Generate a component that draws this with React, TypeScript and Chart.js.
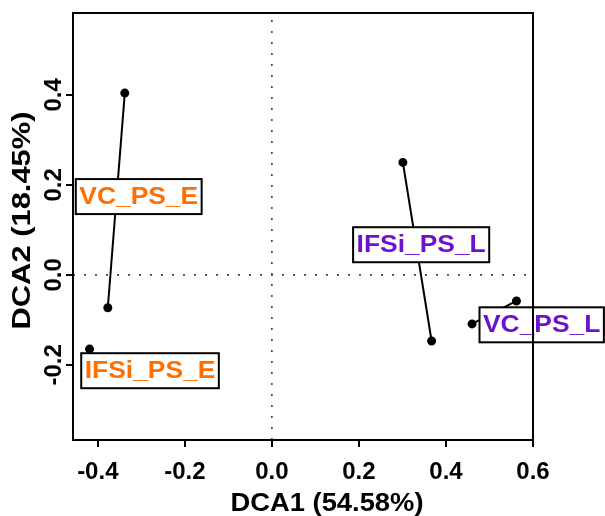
import React, { useEffect, useRef } from "react";
import { Chart, registerables } from "chart.js";
Chart.register(...registerables);

// ---- data ----
const groupNames = ["VC_PS_E", "IFSi_PS_E", "IFSi_PS_L", "VC_PS_L"];
const groupColors = ["#FF6F00", "#FF6F00", "#6F10CF", "#6F10CF"];
const vcPsE = [
  { x: -0.338, y: 0.404 },
  { x: -0.377, y: -0.073 },
];
const ifsiPsE = [{ x: -0.419, y: -0.165 }];
const ifsiPsL = [
  { x: 0.301, y: 0.25 },
  { x: 0.367, y: -0.147 },
];
const vcPsL = [
  { x: 0.46, y: -0.109 },
  { x: 0.562, y: -0.058 },
];
const labelX = [-0.306, -0.28, 0.343, 0.62];
const labelY = [0.174, -0.213, 0.067, -0.111];
const xTicks = [-0.4, -0.2, 0.0, 0.2, 0.4, 0.6];
const yTicks = [-0.2, 0.0, 0.2, 0.4];
const xRange = [-0.457, 0.6];
const yRange = [-0.367, 0.582];
const xTitle = "DCA1 (54.58%)";
const yTitle = "DCA2 (18.45%)";

const FONT = '"Liberation Sans", Arial, sans-serif';

function drawStretched(ctx: CanvasRenderingContext2D, text: string, cx: number, cy: number, sx: number) {
  ctx.save();
  ctx.translate(cx, cy);
  ctx.scale(sx, 1);
  ctx.textAlign = "center";
  ctx.textBaseline = "middle";
  ctx.fillText(text, 0, 0);
  ctx.restore();
}

const overlayPlugin = {
  id: "overlay",
  afterDatasetsDraw(chart: any) {
    const ctx = chart.ctx as CanvasRenderingContext2D;
    const xs = chart.scales.x;
    const ys = chart.scales.y;
    const sx = 1.1;
    ctx.save();
    ctx.font = `bold 24px ${FONT}`;
    groupNames.forEach((name, i) => {
      const cx = xs.getPixelForValue(labelX[i]);
      const cy = ys.getPixelForValue(labelY[i]);
      const w = ctx.measureText(name).width * sx + 7;
      const h = 35;
      ctx.fillStyle = "#ffffff";
      ctx.fillRect(cx - w / 2, cy - h / 2, w, h);
      ctx.lineWidth = 2;
      ctx.strokeStyle = "#000000";
      ctx.strokeRect(cx - w / 2, cy - h / 2, w, h);
      ctx.fillStyle = groupColors[i];
      drawStretched(ctx, name, cx, cy + 1, sx);
    });
    ctx.restore();
  },
  afterDraw(chart: any) {
    const ctx = chart.ctx as CanvasRenderingContext2D;
    const a = chart.chartArea;
    ctx.save();
    ctx.lineWidth = 2;
    ctx.strokeStyle = "#000000";
    ctx.strokeRect(a.left, a.top, a.right - a.left, a.bottom - a.top);
    ctx.fillStyle = "#000000";
    ctx.font = `bold 25px ${FONT}`;
    const tw = ctx.measureText(xTitle).width;
    drawStretched(ctx, xTitle, (a.left + a.right) / 2 + 24, 504, 193 / tw);
    ctx.save();
    ctx.translate(23, (a.top + a.bottom) / 2 - 6);
    ctx.rotate(-Math.PI / 2);
    const tw2 = ctx.measureText(yTitle).width;
    drawStretched(ctx, yTitle, 0, 0, 218 / tw2);
    ctx.restore();
    ctx.restore();
  },
};

export default function App() {
  const ref = useRef<HTMLCanvasElement | null>(null);
  useEffect(() => {
    if (!ref.current) return;
    const segStyle = {
      type: "line" as const,
      borderColor: "#000000",
      backgroundColor: "#000000",
      borderWidth: 2,
      pointRadius: 3.5,
      pointBackgroundColor: "#000000",
      pointBorderColor: "#000000",
      showLine: true,
    };
    const dotStyle = {
      type: "line" as const,
      borderColor: "#444444",
      borderWidth: 1.6,
      borderDash: [2, 9],
      pointRadius: 0,
      showLine: true,
    };
    const chart = new Chart(ref.current, {
      type: "scatter",
      data: {
        datasets: [
          { ...dotStyle, data: [{ x: xRange[0], y: 0 }, { x: xRange[1], y: 0 }] },
          { ...dotStyle, data: [{ x: 0, y: yRange[0] }, { x: 0, y: yRange[1] }] },
          { ...segStyle, data: vcPsE },
          { ...segStyle, data: ifsiPsE },
          { ...segStyle, data: ifsiPsL },
          { ...segStyle, data: vcPsL },
        ] as any,
      },
      options: {
        responsive: false,
        animation: false,
        layout: { padding: { top: 13, right: 72, left: 0, bottom: 0 } },
        plugins: { legend: { display: false }, tooltip: { enabled: false } },
        scales: {
          x: {
            type: "linear",
            min: xRange[0],
            max: xRange[1],
            afterBuildTicks: (s: any) => {
              s.ticks = xTicks.map((v) => ({ value: v }));
            },
            afterFit: (s: any) => {
              s.height = 76;
            },
            border: { display: false },
            grid: { drawOnChartArea: false, drawTicks: true, tickLength: 7, lineWidth: 2, color: "#000000" },
            ticks: {
              color: "#000000",
              font: { family: FONT, size: 24, weight: "bold" },
              padding: 11,
              maxRotation: 0,
              autoSkip: false,
              callback: (v: any) => Number(v).toFixed(1),
            },
          },
          y: {
            type: "linear",
            min: yRange[0],
            max: yRange[1],
            afterBuildTicks: (s: any) => {
              s.ticks = yTicks.map((v) => ({ value: v }));
            },
            afterFit: (s: any) => {
              s.width = 73;
            },
            border: { display: false },
            grid: { drawOnChartArea: false, drawTicks: true, tickLength: 7, lineWidth: 2, color: "#000000" },
            ticks: {
              color: "#000000",
              font: { family: FONT, size: 24, weight: "bold" },
              padding: -9,
              minRotation: 90,
              maxRotation: 90,
              crossAlign: "center",
              autoSkip: false,
              callback: (v: any) => Number(v).toFixed(1),
            },
          },
        },
      },
      plugins: [overlayPlugin],
    });
    return () => chart.destroy();
  }, []);
  return (
    <div style={{ position: "fixed", left: 0, top: 0, width: 605, height: 516, background: "#fff" }}>
      <canvas ref={ref} width={605} height={516} />
    </div>
  );
}
